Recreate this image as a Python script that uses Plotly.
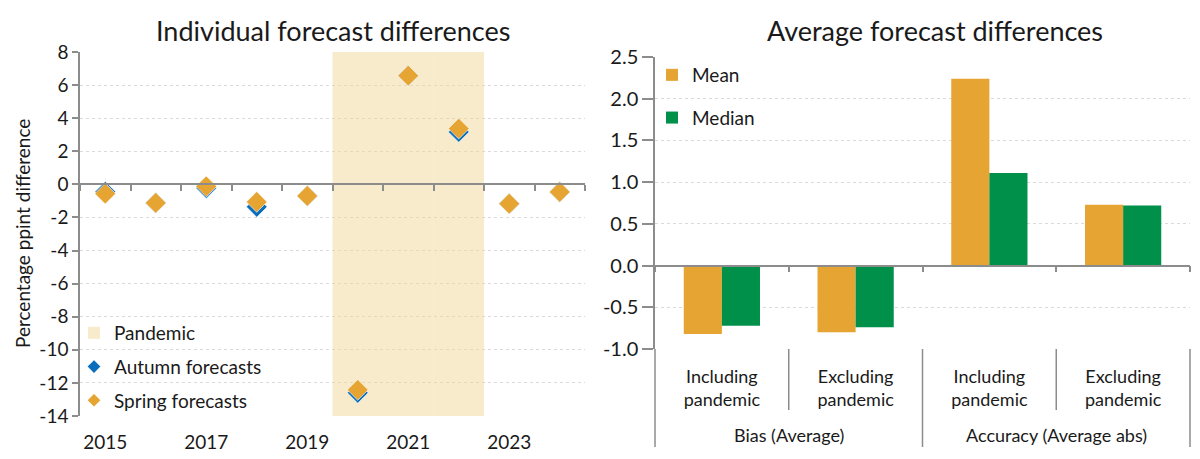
import plotly.graph_objects as go

# ---------------- data ----------------
years = [2015, 2016, 2017, 2018, 2019, 2020, 2021, 2022, 2023, 2024]
autumn = [-0.45, -1.12, -0.22, -1.36, -0.70, -12.60, 6.57, 3.17, -1.17, -0.46]
spring = [-0.56, -1.12, -0.12, -1.06, -0.70, -12.42, 6.57, 3.37, -1.17, -0.46]
pandemic_years = [2020, 2021, 2022]
left_xticks = [2015, 2017, 2019, 2021, 2023]
left_yticks = [8, 6, 4, 2, 0, -2, -4, -6, -8, -10, -12, -14]
left_yticktext = ["8", "6", "4", "2", "0", "-2", "-4", "-6", "-8", "-10", "-12", "-14"]

groups = ["Bias (Average)", "Bias (Average)", "Accuracy (Average abs)", "Accuracy (Average abs)"]
subcats = ["Including<br>pandemic", "Excluding<br>pandemic", "Including<br>pandemic", "Excluding<br>pandemic"]
mean_vals = [-0.82, -0.80, 2.24, 0.73]
median_vals = [-0.72, -0.74, 1.11, 0.72]
right_yticks = [2.5, 2.0, 1.5, 1.0, 0.5, 0.0, -0.5, -1.0]
right_yticktext = ["2.5", "2.0", "1.5", "1.0", "0.5", "0.0", "-0.5", "-1.0"]

# ---------------- style / geometry ----------------
OFF = 8                      # browser body margin
W, H = 1200 - OFF, 459 - OFF
FONT = "Lato"
TXT = "#1a1a1a"
ORANGE = "#E6A532"
BLUE = "#0A6EBD"
GREEN = "#00904A"
SHADE = "rgba(239,215,153,0.5)"
AXIS = "#8C8C8C"
GRID = "#DADADA"


def fx(px):
    return (px - OFF) / W


def fy(py):
    return 1 - (py - OFF) / H


LY = (min(left_yticks), max(left_yticks))
RY = (min(right_yticks), max(right_yticks))

Lx = [fx(80), fx(585)]
Ly = [fy(416), fy(52)]
Rx = [fx(655), fx(1190)]
Ry = [fy(349), fy(57)]

left_zero_pos = Ly[0] + (0 - LY[0]) / (LY[1] - LY[0]) * (Ly[1] - Ly[0])
right_zero_pos = Ry[0] + (0 - RY[0]) / (RY[1] - RY[0]) * (Ry[1] - Ry[0])

fig = go.Figure()

# pandemic shading as bars spanning the full axis range
fig.add_trace(go.Bar(
    x=pandemic_years, y=[LY[1] - LY[0]] * len(pandemic_years), base=LY[0], width=1,
    marker=dict(color=SHADE, line=dict(width=0)), name="Pandemic",
    xaxis="x", yaxis="y", legend="legend", legendgroup="p", hoverinfo="skip"))
fig.add_trace(go.Scatter(
    x=years, y=autumn, mode="markers", name="Autumn forecasts",
    marker=dict(symbol="diamond", size=16, color=BLUE, line=dict(color="white", width=0.6)),
    xaxis="x", yaxis="y", legend="legend", legendgroup="a"))
fig.add_trace(go.Scatter(
    x=years, y=spring, mode="markers", name="Spring forecasts",
    marker=dict(symbol="diamond", size=16, color=ORANGE, line=dict(color="white", width=0.6)),
    xaxis="x", yaxis="y", legend="legend", legendgroup="s"))
# invisible carrier for the zero-line axis
fig.add_trace(go.Scatter(x=years, y=spring, mode="markers", marker=dict(opacity=0),
                         xaxis="x3", yaxis="y", showlegend=False, hoverinfo="skip"))

# right chart: unique category keys, inner labels as tick text, outer as annotations
keys = [f"{g}|{s}" for g, s in zip(groups, subcats)]
fig.add_trace(go.Bar(x=keys, y=mean_vals, name="Mean",
                     marker=dict(color=ORANGE, line=dict(width=0)),
                     xaxis="x2", yaxis="y2", legend="legend2", legendgroup="m"))
fig.add_trace(go.Bar(x=keys, y=median_vals, name="Median",
                     marker=dict(color=GREEN, line=dict(width=0)),
                     xaxis="x2", yaxis="y2", legend="legend2", legendgroup="md"))
fig.add_trace(go.Scatter(x=list(range(len(subcats))), y=mean_vals, mode="markers",
                         marker=dict(opacity=0), xaxis="x4", yaxis="y2",
                         showlegend=False, hoverinfo="skip"))

tickfont = dict(family=FONT, size=19, color=TXT)

# category dividers below the right chart
n = len(subcats)
shapes = []
for i in range(n + 1):
    outer = (i == 0 or i == n or groups[i - 1] != groups[i])
    shapes.append(dict(type="line", xref="x2 domain", yref="paper",
                       x0=i / n, x1=i / n, y0=Ry[0], y1=fy(447 if outer else 410),
                       line=dict(color=AXIS, width=1.5), layer="above"))

# outer group labels
annotations = []
seen = []
for g in groups:
    if g not in seen:
        seen.append(g)
for g in seen:
    idx = [i for i, gg in enumerate(groups) if gg == g]
    annotations.append(dict(text=g, x=sum(idx) / len(idx), y=fy(435), xref="x2", yref="paper",
                            xanchor="center", yanchor="middle", showarrow=False,
                            font=dict(family=FONT, size=18, color=TXT)))

annotations += [
    dict(text="Individual forecast differences", x=fx(333), y=fy(30),
         xref="paper", yref="paper", xanchor="center", yanchor="middle",
         showarrow=False, font=dict(family=FONT, size=27, color=TXT)),
    dict(text="Average forecast differences", x=fx(935), y=fy(30),
         xref="paper", yref="paper", xanchor="center", yanchor="middle",
         showarrow=False, font=dict(family=FONT, size=27, color=TXT)),
    dict(text="Percentage ppint difference", x=fx(22), y=fy(234),
         xref="paper", yref="paper", xanchor="center", yanchor="middle",
         textangle=-90, showarrow=False, font=dict(family=FONT, size=19, color=TXT)),
]

fig.update_layout(
    width=W, height=H, margin=dict(l=0, r=0, t=0, b=0),
    paper_bgcolor="white", plot_bgcolor="white",
    font=dict(family=FONT, color=TXT),
    barmode="group", bargap=0.43, bargroupgap=0,
    showlegend=True,
    xaxis=dict(domain=Lx, anchor="y", range=[years[0] - 0.5, years[-1] + 0.5],
               tickmode="array", tickvals=left_xticks, ticks="outside", ticklen=9,
               tickcolor="rgba(0,0,0,0)", showgrid=False,
               zeroline=False, showline=False, tickfont=tickfont, automargin=False),
    xaxis3=dict(overlaying="x", anchor="free", position=left_zero_pos,
                range=[years[0] - 0.5, years[-1] + 0.5],
                tickmode="array", tickvals=[y - 0.5 for y in years] + [years[-1] + 0.5],
                ticks="outside", ticklen=6, tickwidth=1.5, tickcolor=AXIS,
                showline=True, linecolor=AXIS, linewidth=1.5,
                showticklabels=False, showgrid=False, zeroline=False),
    yaxis=dict(domain=Ly, anchor="x", range=[LY[0], LY[1]],
               tickmode="array", tickvals=left_yticks, ticktext=left_yticktext,
               ticks="outside", ticklen=6, tickwidth=1.5, tickcolor=AXIS,
               showline=True, linecolor=AXIS, linewidth=1.5,
               showgrid=True, gridcolor=GRID, griddash="dot", gridwidth=1,
               zeroline=False, tickfont=tickfont, automargin=False),
    xaxis2=dict(domain=Rx, anchor="y2", type="category",
                tickmode="array", tickvals=keys, ticktext=subcats,
                ticks="outside", ticklen=11, tickcolor="rgba(0,0,0,0)",
                showline=False, showgrid=False, zeroline=False,
                tickfont=dict(family=FONT, size=18, color=TXT), automargin=False),
    xaxis4=dict(overlaying="x2", anchor="free", position=right_zero_pos,
                range=[-0.5, n - 0.5],
                tickmode="array", tickvals=[i - 0.5 for i in range(n + 1)],
                ticks="outside", ticklen=6, tickwidth=1.5, tickcolor=AXIS,
                showline=True, linecolor=AXIS, linewidth=1.5,
                showticklabels=False, showgrid=False, zeroline=False),
    yaxis2=dict(domain=Ry, anchor="x2", range=[RY[0], RY[1]],
                tickmode="array", tickvals=right_yticks, ticktext=right_yticktext,
                ticks="outside", ticklen=11, tickwidth=1.5, tickcolor=AXIS,
                showline=True, linecolor=AXIS, linewidth=1.5,
                showgrid=True, gridcolor=GRID, griddash="dot", gridwidth=1,
                zeroline=False, tickfont=dict(family=FONT, size=20, color=TXT),
                automargin=False),
    legend=dict(x=fx(74), y=fy(314), xanchor="left", yanchor="top",
                bgcolor="rgba(0,0,0,0)", font=dict(family=FONT, size=19, color=TXT),
                traceorder="grouped", tracegroupgap=6, itemsizing="constant"),
    legend2=dict(x=fx(652), y=fy(56), xanchor="left", yanchor="top",
                 bgcolor="rgba(0,0,0,0)", font=dict(family=FONT, size=19, color=TXT),
                 traceorder="grouped", tracegroupgap=15, itemsizing="constant"),
    shapes=shapes,
    annotations=annotations,
)

fig.write_html("out.html")
